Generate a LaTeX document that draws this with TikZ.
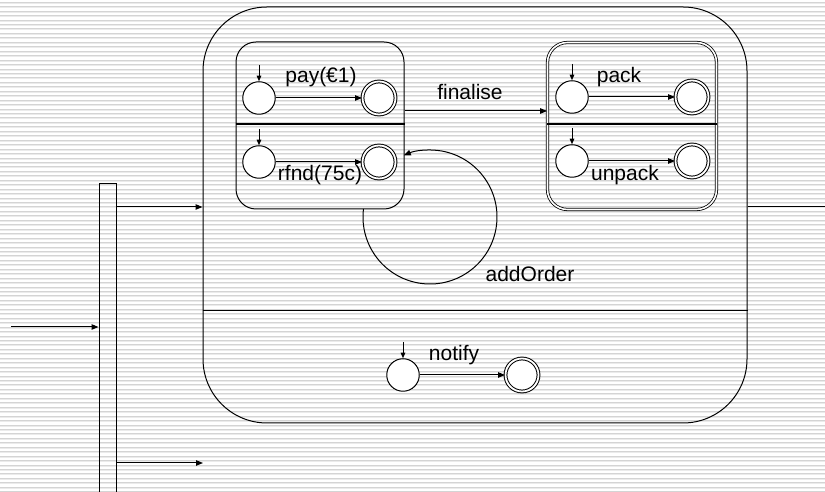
\documentclass[tikz,border=0pt]{standalone}
\usepackage{fontspec}
\setmainfont{Liberation Sans}
\usetikzlibrary{arrows.meta}
\begin{document}
\begin{tikzpicture}[x=1pt,y=1pt,
  ln/.style={line width=1pt},
  arr/.style={ln,-{Triangle[length=7pt,width=5.5pt]}},
  iarr/.style={ln,-{Triangle[length=5.5pt,width=4.5pt]}},
  st/.style={circle,draw,ln,fill=white,minimum size=32.5pt,inner sep=0pt},
  fin/.style={circle,draw,ln,fill=white,minimum size=33pt,inner sep=0pt,double,double distance=1.8pt},
  lbl/.style={font=\fontsize{21}{25}\selectfont,inner sep=0pt}]
\useasboundingbox (0,0) rectangle (825,492);
% striped background
\foreach \i in {0,...,110} {
  \draw[line width=1pt,black!17] (0,{492-2.3-4.45*\i}) -- (825,{492-2.3-4.45*\i});
  \draw[line width=1pt,black!8] (0,{492-3.3-4.45*\i}) -- (825,{492-3.3-4.45*\i});
}
% outer composite state
\node[draw,ln,rounded corners=64pt,minimum width=544pt,minimum height=416pt,inner sep=0pt] (outer) at (475,277) {};
\draw[ln] (outer.west |- 0,181) coordinate (dl) -- (outer.east |- 0,181) coordinate (dr);
% fork bar
\node[draw,ln,minimum width=17pt,minimum height=312pt,inner sep=0pt,anchor=north] (fork) at (107.5,309) {};
\coordinate (src) at (11,165);
\draw[arr] (src) -- (fork.west |- src);
\draw[arr] (fork.east |- 0,285) -- (outer.west |- 0,285);
\draw[arr] (fork.east |- 0,29) -- (203,29) coordinate (open);
% outgoing line
\coordinate (exit) at (825,285);
\draw[ln] (outer.east |- exit) -- (exit);
% left region box
\node[draw,ln,rounded corners=20pt,minimum width=168pt,minimum height=167pt,inner sep=0pt] (lbox) at (320,366.5) {};
\draw[line width=1.8pt] (lbox.west |- 0,368) -- (lbox.east |- 0,368);
% right region box (double border)
\node[draw,line width=0.8pt,double,double distance=1.6pt,rounded corners=20pt,minimum width=169pt,minimum height=167pt,inner sep=0pt] (rbox) at (632,366) {};
\draw[line width=1.8pt] (rbox.west |- 0,368) -- (rbox.east |- 0,368);
% left box states
\node[st] (a1) at (259,394) {};
\node[fin] (a2) at (379,394) {};
\node[st] (b1) at (259,330) {};
\node[fin] (b2) at (379,330) {};
\coordinate (ia) at (259,427);
\coordinate (ib) at (259,363);
\draw[iarr] (ia) -- (a1);
\draw[iarr] (ib) -- (b1);
\draw[arr] (a1) -- (a2);
\draw[arr] (b1) -- (b2);
\node[lbl] (la) at (321,415) {pay(€1)};
\node[lbl] (lb) at (320,317) {rfnd(75c)};
% right box states
\node[st] (c1) at (572,395) {};
\node[fin] (c2) at (692,395) {};
\node[st] (d1) at (572,331) {};
\node[fin] (d2) at (692,331) {};
\coordinate (ic) at (572,428);
\coordinate (id) at (572,364);
\draw[iarr] (ic) -- (c1);
\draw[iarr] (id) -- (d1);
\draw[arr] (c1) -- (c2);
\draw[arr] (d1) -- (d2);
\node[lbl] (lc) at (619,415) {pack};
\node[lbl] (ld) at (625,317) {unpack};
% finalise
\draw[arr] (lbox.east |- 0,381) -- (rbox.west |- 0,381);
\node[lbl] (lf) at (470,400) {finalise};
% addOrder self loop
\draw[arr] ([shift={(173:67)}]430,275) arc[start angle=173,end angle=473,radius=67];
\node[lbl] (lo) at (530,218) {addOrder};
% bottom region
\node[st] (e1) at (403,117) {};
\node[fin] (e2) at (522,117) {};
\coordinate (ie) at (403,150);
\draw[iarr] (ie) -- (e1);
\draw[arr] (e1) -- (e2);
\node[lbl] (ln) at (454,137) {notify};
\end{tikzpicture}
\end{document}
